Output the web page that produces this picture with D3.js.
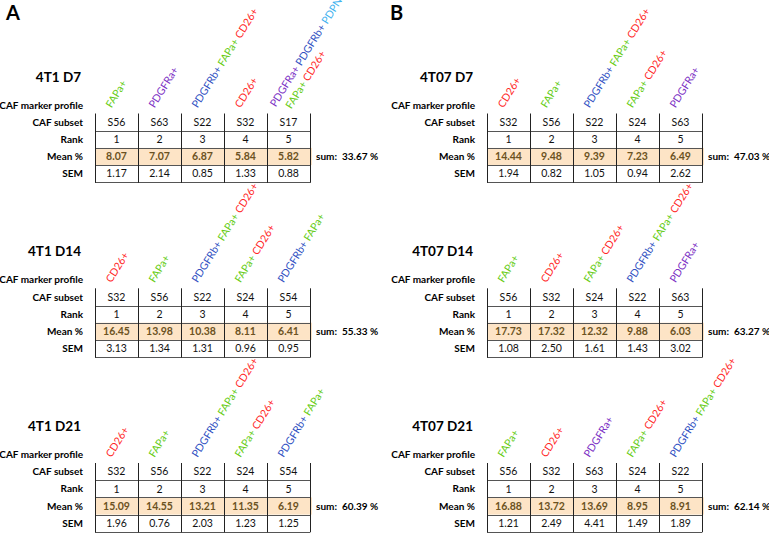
<!DOCTYPE html>
<html>
<head>
<meta charset="utf-8">
<script src="https://cdn.jsdelivr.net/npm/d3@7"></script>
<style>
  html, body { margin: 0; padding: 0; background: #fff; }
  svg { display: block; font-family: Lato, "Open Sans", sans-serif; }
</style>
</head>
<body>
<svg id="chart" width="769" height="534"></svg>
<script>
// ---------- DATA ----------
const panelLetters = ["A", "B"];
const rowLabels = ["CAF subset", "Rank", "Mean %", "SEM"];
const ranks = [1, 2, 3, 4, 5];

const markerColors = {
  "FAPa+": "#66cc14",
  "PDGFRa+": "#7b2fc4",
  "PDGFRb+": "#2f4fc2",
  "CD26+": "#ff2626",
  "PDPN+": "#3fb2ef"
};

// 4T1 D7
const subsets_4T1_D7 = ["S56", "S63", "S22", "S32", "S17"];
const mean_4T1_D7 = [8.07, 7.07, 6.87, 5.84, 5.82];
const sem_4T1_D7 = [1.17, 2.14, 0.85, 1.33, 0.88];
const profile_4T1_D7 = [
  [["FAPa+"]], [["PDGFRa+"]], [["PDGFRb+", "FAPa+", "CD26+"]], [["CD26+"]],
  [["PDGFRa+", "PDGFRb+", "PDPN+"], ["FAPa+", "CD26+"]]
];
// 4T1 D14
const subsets_4T1_D14 = ["S32", "S56", "S22", "S24", "S54"];
const mean_4T1_D14 = [16.45, 13.98, 10.38, 8.11, 6.41];
const sem_4T1_D14 = [3.13, 1.34, 1.31, 0.96, 0.95];
const profile_4T1_D14 = [
  [["CD26+"]], [["FAPa+"]], [["PDGFRb+", "FAPa+", "CD26+"]], [["FAPa+", "CD26+"]], [["PDGFRb+", "FAPa+"]]
];
// 4T1 D21
const subsets_4T1_D21 = ["S32", "S56", "S22", "S24", "S54"];
const mean_4T1_D21 = [15.09, 14.55, 13.21, 11.35, 6.19];
const sem_4T1_D21 = [1.96, 0.76, 2.03, 1.23, 1.25];
const profile_4T1_D21 = [
  [["CD26+"]], [["FAPa+"]], [["PDGFRb+", "FAPa+", "CD26+"]], [["FAPa+", "CD26+"]], [["PDGFRb+", "FAPa+"]]
];
// 4T07 D7
const subsets_4T07_D7 = ["S32", "S56", "S22", "S24", "S63"];
const mean_4T07_D7 = [14.44, 9.48, 9.39, 7.23, 6.49];
const sem_4T07_D7 = [1.94, 0.82, 1.05, 0.94, 2.62];
const profile_4T07_D7 = [
  [["CD26+"]], [["FAPa+"]], [["PDGFRb+", "FAPa+", "CD26+"]], [["FAPa+", "CD26+"]], [["PDGFRa+"]]
];
// 4T07 D14
const subsets_4T07_D14 = ["S56", "S32", "S24", "S22", "S63"];
const mean_4T07_D14 = [17.73, 17.32, 12.32, 9.88, 6.03];
const sem_4T07_D14 = [1.08, 2.50, 1.61, 1.43, 3.02];
const profile_4T07_D14 = [
  [["FAPa+"]], [["CD26+"]], [["FAPa+", "CD26+"]], [["PDGFRb+", "FAPa+", "CD26+"]], [["PDGFRa+"]]
];
// 4T07 D21
const subsets_4T07_D21 = ["S56", "S32", "S63", "S24", "S22"];
const mean_4T07_D21 = [16.88, 13.72, 13.69, 8.95, 8.91];
const sem_4T07_D21 = [1.21, 2.49, 4.41, 1.49, 1.89];
const profile_4T07_D21 = [
  [["FAPa+"]], [["CD26+"]], [["PDGFRa+"]], [["FAPa+", "CD26+"]], [["PDGFRb+", "FAPa+", "CD26+"]]
];

// sums as printed in the figure
const sums = [33.67, 55.33, 60.39, 47.03, 63.27, 62.14];

const tables = [
  { panel: "A", slot: 0, title: "4T1 D7",  subsets: subsets_4T1_D7,  mean: mean_4T1_D7,  sem: sem_4T1_D7,  profile: profile_4T1_D7,  sum: sums[0] },
  { panel: "A", slot: 1, title: "4T1 D14", subsets: subsets_4T1_D14, mean: mean_4T1_D14, sem: sem_4T1_D14, profile: profile_4T1_D14, sum: sums[1] },
  { panel: "A", slot: 2, title: "4T1 D21", subsets: subsets_4T1_D21, mean: mean_4T1_D21, sem: sem_4T1_D21, profile: profile_4T1_D21, sum: sums[2] },
  { panel: "B", slot: 0, title: "4T07 D7",  subsets: subsets_4T07_D7,  mean: mean_4T07_D7,  sem: sem_4T07_D7,  profile: profile_4T07_D7,  sum: sums[3] },
  { panel: "B", slot: 1, title: "4T07 D14", subsets: subsets_4T07_D14, mean: mean_4T07_D14, sem: sem_4T07_D14, profile: profile_4T07_D14, sum: sums[4] },
  { panel: "B", slot: 2, title: "4T07 D21", subsets: subsets_4T07_D21, mean: mean_4T07_D21, sem: sem_4T07_D21, profile: profile_4T07_D21, sum: sums[5] }
];

// ---------- LAYOUT ----------
const layout = {
  A: { letterX: 6,   labelRight: 83,  left: 95,  right: 310 },
  B: { letterX: 390, labelRight: 475, left: 487, right: 702 }
};
const tops = [113.5, 288.3, 463];
const rowH = 17.2;
const angle = -58;

const svg = d3.select("#chart");

panelLetters.forEach(p => {
  svg.append("text")
    .attr("x", layout[p].letterX).attr("y", 19.5)
    .attr("font-size", 20).attr("font-weight", 700).attr("fill", "#000")
    .text(p);
});

tables.forEach(t => {
  const L = layout[t.panel];
  const top = tops[t.slot];
  const x = d3.scaleBand().domain(ranks).range([L.left, L.right]);
  const y = d3.scaleBand().domain(rowLabels).range([top, top + rowH * rowLabels.length]);
  const bottom = top + rowH * rowLabels.length;
  const g = svg.append("g");

  // highlight for Mean row
  g.append("rect")
    .attr("x", L.left).attr("y", y("Mean %"))
    .attr("width", L.right - L.left + 2).attr("height", y.bandwidth())
    .attr("fill", "#fde4c6");

  // horizontal lines
  ["Rank", "Mean %", "SEM"].forEach(r => {
    g.append("line")
      .attr("x1", L.left).attr("x2", L.right)
      .attr("y1", Math.round(y(r)) + 0.5).attr("y2", Math.round(y(r)) + 0.5)
      .attr("stroke", "#555").attr("stroke-width", 1);
  });
  g.append("line")
    .attr("x1", L.left).attr("x2", L.right)
    .attr("y1", Math.round(bottom) + 0.5).attr("y2", Math.round(bottom) + 0.5)
    .attr("stroke", "#555").attr("stroke-width", 1);

  // vertical lines
  const bounds = ranks.map(r => x(r)).concat([L.right]);
  bounds.forEach(bx => {
    g.append("line")
      .attr("x1", Math.round(bx) + 0.5).attr("x2", Math.round(bx) + 0.5)
      .attr("y1", top).attr("y2", bottom + 0.5)
      .attr("stroke", "#222").attr("stroke-width", 1);
  });

  // title
  g.append("text")
    .attr("x", L.labelRight - 2).attr("y", top - 32)
    .attr("text-anchor", "end").attr("font-size", 13.5).attr("font-weight", 700)
    .text(t.title);

  // row labels
  g.append("text")
    .attr("x", L.labelRight).attr("y", top - 5)
    .attr("text-anchor", "end").attr("font-size", 10).attr("font-weight", 700)
    .text("CAF marker profile");
  rowLabels.forEach(r => {
    g.append("text")
      .attr("x", L.labelRight).attr("y", y(r) + y.bandwidth() / 2)
      .attr("dy", "0.36em")
      .attr("text-anchor", "end").attr("font-size", 10).attr("font-weight", 700)
      .text(r);
  });

  // cells
  const rowsData = {
    "CAF subset": t.subsets,
    "Rank": ranks.map(String),
    "Mean %": t.mean.map(d => d.toFixed(2)),
    "SEM": t.sem.map(d => d.toFixed(2))
  };
  rowLabels.forEach(r => {
    g.selectAll(null).data(rowsData[r]).join("text")
      .attr("x", (d, i) => x(ranks[i]) + x.bandwidth() / 2)
      .attr("y", y(r) + y.bandwidth() / 2)
      .attr("dy", "0.36em")
      .attr("text-anchor", "middle")
      .attr("font-size", 10.5)
      .attr("font-weight", r === "Mean %" ? 700 : 400)
      .attr("fill", r === "Mean %" ? "#6b5222" : "#111")
      .text(d => d);
  });

  // sum
  const sumText = g.append("text")
    .attr("x", L.right + 6).attr("y", y("Mean %") + y.bandwidth() / 2)
    .attr("dy", "0.36em")
    .attr("font-size", 10).attr("font-weight", 700);
  sumText.append("tspan").text("sum:");
  sumText.append("tspan").attr("dx", 5).text(t.sum.toFixed(2) + " %");

  // rotated marker profile labels
  t.profile.forEach((lines, i) => {
    const ax = x(ranks[i]) + x.bandwidth() / 2 - 5;
    const ay = top - 5;
    const lg = g.append("g").attr("transform", `translate(${ax},${ay}) rotate(${angle})`);
    const n = lines.length;
    lines.forEach((markers, k) => {
      const off = k - (n - 1) / 2;
      const txt = lg.append("text")
        .attr("x", off * 6.6).attr("y", off * 14.4)
        .attr("font-size", 10.5);
      markers.forEach((m, j) => {
        txt.append("tspan")
          .attr("fill", markerColors[m])
          .text((j > 0 ? " " : "") + m);
      });
    });
  });
});
</script>
</body>
</html>
